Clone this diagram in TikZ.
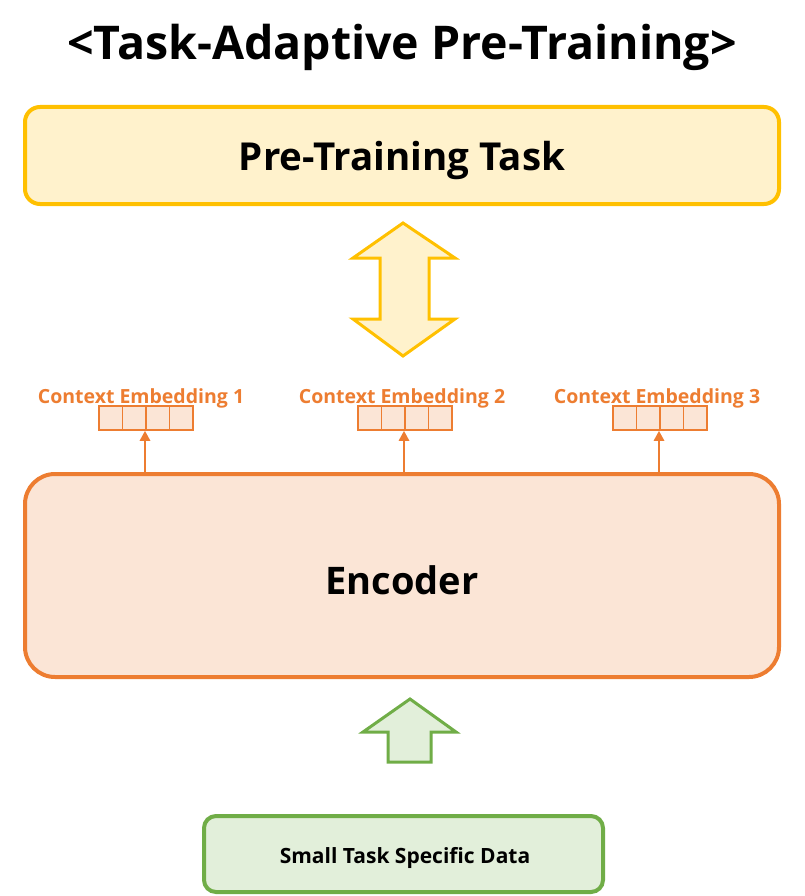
\documentclass[tikz,border=0pt]{standalone}
\usepackage{fontspec}
\setmainfont{Open Sans}
\definecolor{yelS}{HTML}{FFC000}
\definecolor{yelF}{HTML}{FFF2CC}
\definecolor{orS}{HTML}{ED7D31}
\definecolor{orF}{HTML}{FBE5D6}
\definecolor{grS}{HTML}{70AD47}
\definecolor{grF}{HTML}{E2EFDA}
\usetikzlibrary{arrows.meta}
\begin{document}
\begin{tikzpicture}[x=1pt,y=-1pt,
  bigbox/.style={line width=4pt, rounded corners=15pt},
  cell/.style={draw=orS, fill=orF, line width=1.5pt, minimum width=23.5pt, minimum height=24pt, inner sep=0pt, anchor=west},
  emblabel/.style={text=orS, font=\bfseries\fontsize{19.5}{22}\selectfont, inner sep=0pt, anchor=base},
  emarrow/.style={draw=orS, line width=2.8pt, -{Triangle[length=10pt,width=10pt]}}]
\useasboundingbox (0,0) rectangle (804,896);
% title
\node[font=\bfseries\fontsize{46.5}{52}\selectfont, inner sep=0pt, anchor=base] (title) at (402,60) {<Task-Adaptive Pre-Training>};
% top box
\draw[bigbox, draw=yelS, fill=yelF] (25,107) rectangle (779,204);
\node[font=\bfseries\fontsize{38.5}{44}\selectfont, inner sep=0pt, anchor=base] (task) at (402,171) {Pre-Training Task};
% double arrow
\draw[draw=yelS, fill=yelF, line width=3pt, line join=miter]
  (403,223) -- (455,258) -- (429,258) -- (429,319) -- (455,319) -- (403,356)
  -- (353,319) -- (380,319) -- (380,258) -- (353,258) -- cycle;
% encoder
\node[draw=orS, fill=orF, line width=4pt, rounded corners=30pt, minimum width=754pt, minimum height=203pt, inner sep=0pt] (enc) at (402,575.5) {};
\node[font=\bfseries\fontsize{38}{44}\selectfont, inner sep=0pt, anchor=base] (enctext) at (402,594) {Encoder};
% embeddings
\foreach \i/\cx/\lx in {1/145/141, 2/404/402, 3/659/657}{
  \node[emblabel] (lab\i) at (\lx,403) {Context Embedding \i};
  \node[cell] (c\i a) at (\cx-47,418) {};
  \node[cell] (c\i b) at (\cx-23.5,418) {};
  \node[cell] (c\i c) at (\cx,418) {};
  \node[cell] (c\i d) at (\cx+23.5,418) {};
  \coordinate (s\i) at (\cx,474);
  \draw[emarrow] (s\i) -- (c\i c.south west);
}
% green arrow
\draw[draw=grS, fill=grF, line width=3pt, line join=miter]
  (410,699) -- (456,732) -- (431,732) -- (431,762) -- (388,762) -- (388,732) -- (363,732) -- cycle;
% bottom box
\node[draw=grS, fill=grF, line width=4pt, rounded corners=12pt, minimum width=399pt, minimum height=76pt, inner sep=0pt] (data) at (403.5,854) {};
\node[font=\bfseries\fontsize{21}{24}\selectfont, inner sep=0pt, anchor=base] (datatext) at (405,863) {Small Task Specific Data};
\end{tikzpicture}
\end{document}
